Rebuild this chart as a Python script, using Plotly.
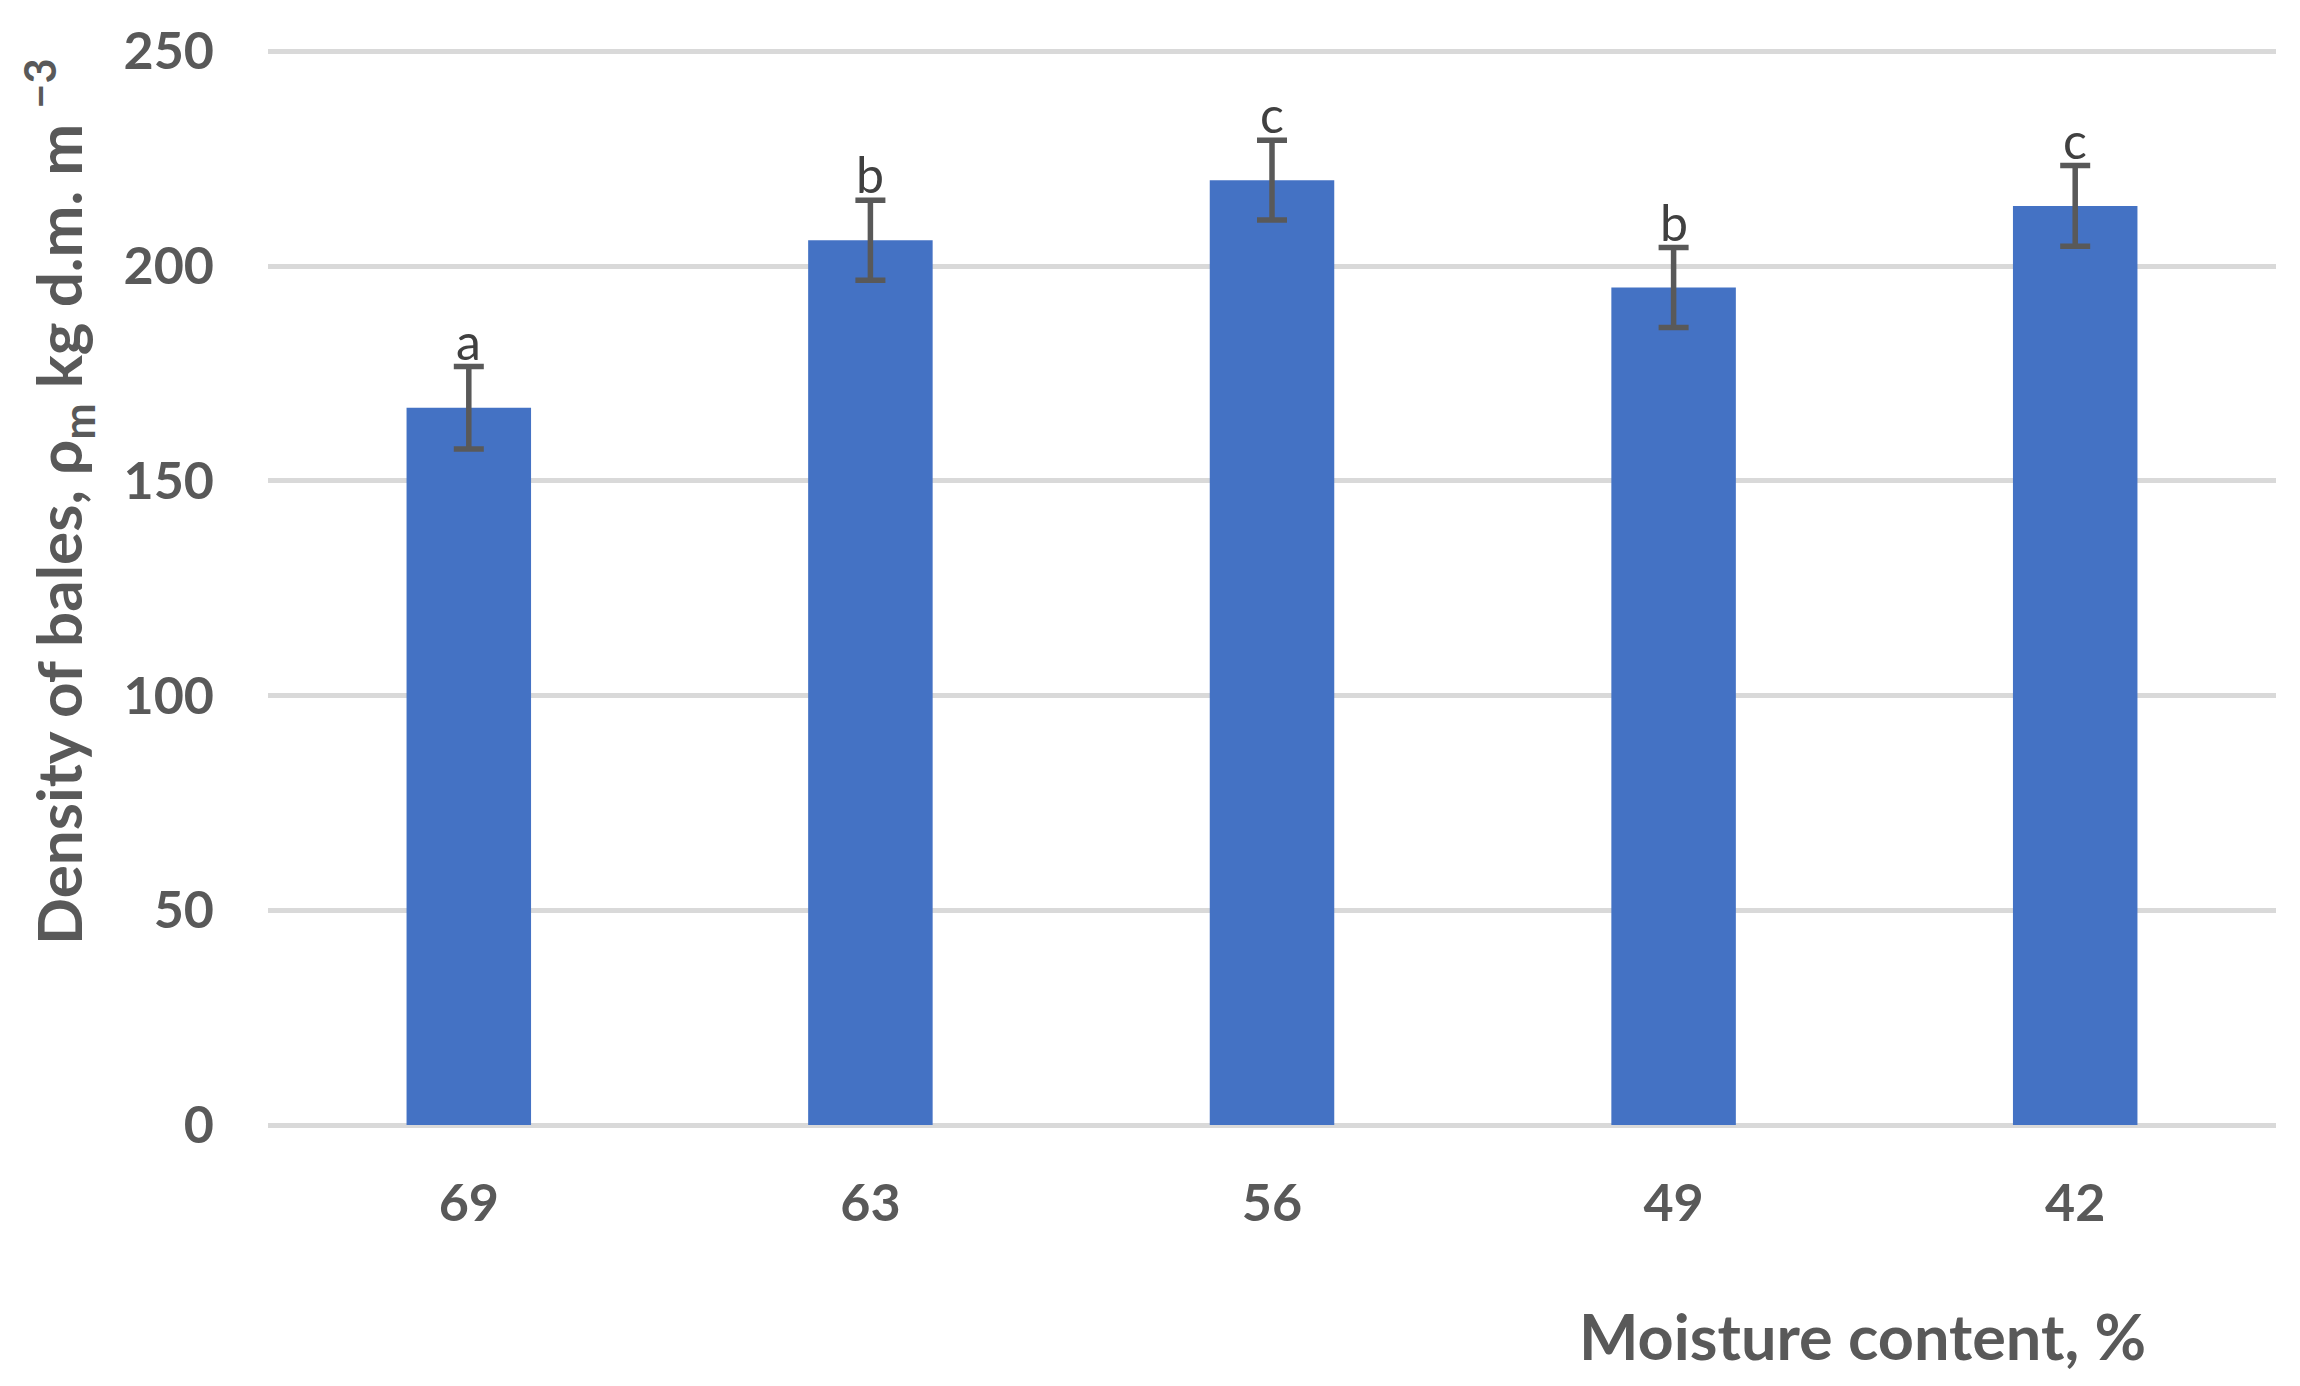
import plotly.graph_objects as go

categories = ["69", "63", "56", "49", "42"]
density = [167, 206, 220, 195, 214]
errors = [9.6, 9.3, 9.3, 9.3, 9.4]
letters = ["a", "b", "c", "b", "c"]
y_ticks = [0, 50, 100, 150, 200, 250]

fig = go.Figure()
fig.add_trace(go.Bar(
    x=categories, y=density,
    marker=dict(color="#4472C4", line=dict(width=0)),
    error_y=dict(type="data", array=errors, visible=True,
                 color="#595959", thickness=5.5, width=15),
    width=0.31,
))

for i, (v, e, l) in enumerate(zip(density, errors, letters)):
    fig.add_annotation(x=i, y=v + e, text=l, showarrow=False,
                       xref="x", yref="y", yanchor="bottom", yshift=-6,
                       font=dict(family="Lato", size=50, color="#404040"))

fig.add_annotation(x=0.794, y=-0.1955, xref="paper", yref="paper",
                   text="<b>Moisture content, %</b>", showarrow=False,
                   xanchor="center", yanchor="middle",
                   font=dict(family="Lato", size=63, color="#595959"))
fig.add_annotation(x=-0.104, y=0.578, xref="paper", yref="paper",
                   text="<b>Density of bales, ρ<sub>m</sub> kg d.m. m <sup>−3</sup></b>",
                   showarrow=False, textangle=-90,
                   xanchor="center", yanchor="middle",
                   font=dict(family="Lato", size=62, color="#595959"))

fig.update_layout(
    width=2300, height=1386,
    margin=dict(l=268, r=24, t=47, b=261),
    paper_bgcolor="white", plot_bgcolor="white",
    showlegend=False,
)
fig.update_xaxes(type="category", range=[-0.5, 4.5], showgrid=False,
                 showline=False, ticks="",
                 tickfont=dict(family="Lato", size=52, color="#595959", weight="bold"),
                 ticklabelstandoff=43, zeroline=False)
fig.update_yaxes(range=[0, 251], tickvals=y_ticks, showgrid=True,
                 gridcolor="#D9D9D9", gridwidth=4.5, zeroline=True,
                 zerolinecolor="#D9D9D9", zerolinewidth=4.5,
                 showline=False, ticks="",
                 tickfont=dict(family="Lato", size=52, color="#595959", weight="bold"),
                 ticklabelstandoff=53)

fig.write_html("out.html", config={"displayModeBar": False},
               post_script="document.body.style.margin='0';document.body.style.overflow='hidden';")
